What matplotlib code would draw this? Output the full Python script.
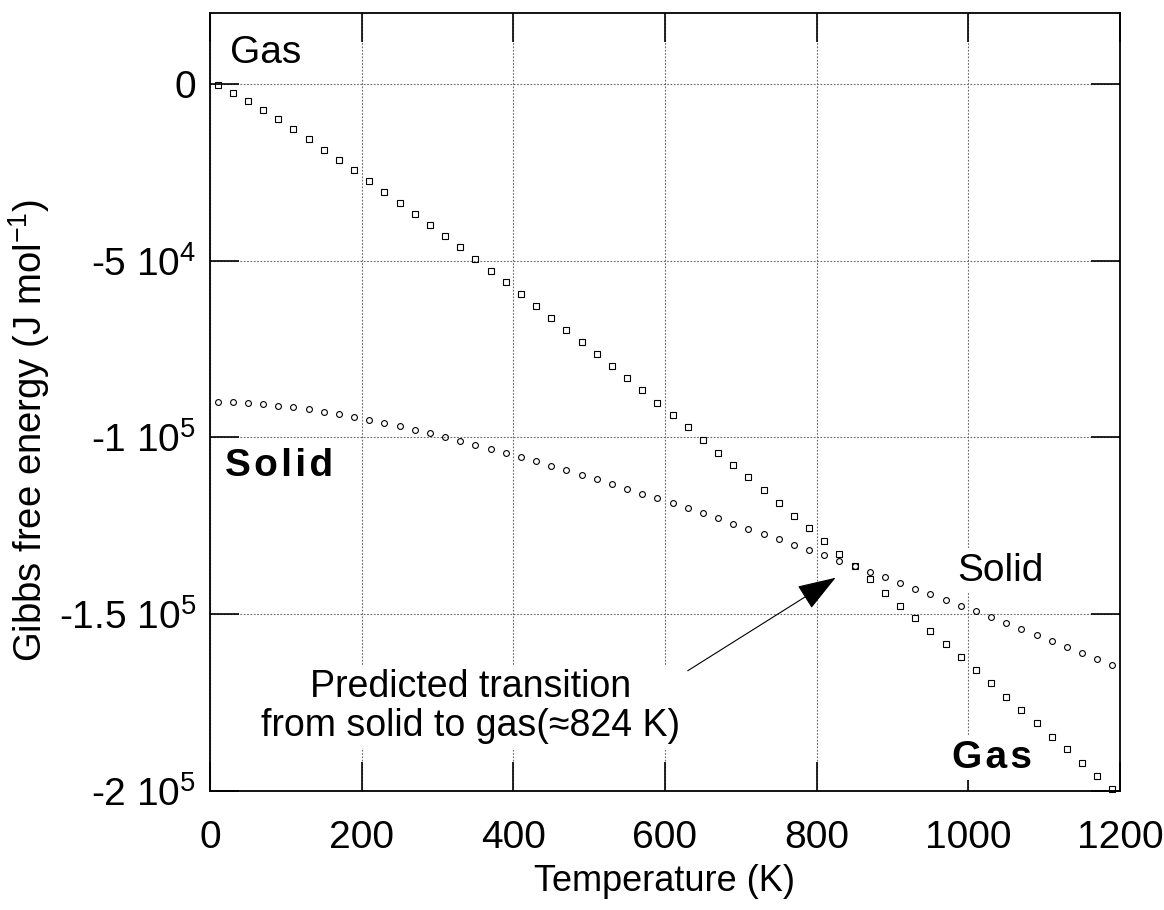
import matplotlib
matplotlib.use('Agg')
import matplotlib.pyplot as plt

plt.rcParams['font.family'] = ['Liberation Sans', 'DejaVu Sans']
plt.rcParams['mathtext.fontset'] = 'custom'
plt.rcParams['mathtext.rm'] = 'Liberation Sans'

# temperature grid (K)
temp = [10, 30, 50, 70, 90, 110, 130, 150, 170, 190,
        210, 230, 250, 270, 290, 310, 330, 350, 370, 390,
        410, 430, 450, 470, 490, 510, 530, 550, 570, 590,
        610, 630, 650, 670, 690, 710, 730, 750, 770, 790,
        810, 830, 850, 870, 890, 910, 930, 950, 970, 990,
        1010, 1030, 1050, 1070, 1090, 1110, 1130, 1150, 1170, 1190]

# Gibbs free energy of the gas phase (J/mol)
g_gas = [-400, -2500, -5000, -7500, -10100, -12800, -15700, -18600, -21600, -24500,
         -27500, -30600, -33700, -36800, -39900, -43200, -46300, -49600, -52900, -56200,
         -59600, -62900, -66300, -69700, -73100, -76500, -79900, -83300, -86700, -90200,
         -93700, -97200, -100700, -104300, -107700, -111300, -115000, -118500, -122100, -125700,
         -129300, -132900, -136500, -140100, -143900, -147600, -151200, -154900, -158500, -162200,
         -165900, -169600, -173400, -177000, -180800, -184600, -188200, -192000, -195800, -199500]

# Gibbs free energy of the solid phase (J/mol)
g_solid = [-90100, -90100, -90200, -90500, -91000, -91400, -92100, -92700, -93500, -94300,
           -95100, -96000, -96900, -97900, -98900, -99900, -101000, -102100, -103300, -104400,
           -105600, -106800, -108100, -109300, -110600, -111900, -113200, -114500, -115900, -117200,
           -118600, -120100, -121500, -122900, -124400, -125800, -127300, -128800, -130300, -131800,
           -133300, -134900, -136500, -138100, -139600, -141200, -142800, -144400, -146000, -147600,
           -149200, -150900, -152600, -154300, -155900, -157600, -159300, -161100, -162800, -164500]

xticks = [0, 200, 400, 600, 800, 1000, 1200]
yticks = [-200000, -150000, -100000, -50000, 0]
ylabels = ['-2 $\\mathregular{10^{5}}$', '-1.5 $\\mathregular{10^{5}}$', '-1 $\\mathregular{10^{5}}$',
           '-5 $\\mathregular{10^{4}}$', '0']

fig = plt.figure(figsize=(11.64, 9.10), dpi=100)
ax = fig.add_axes([0.1804, 0.1308, 0.7818, 0.8549])

ax.plot(temp, g_gas, 's', mfc='none', mec='black', ms=5, mew=0.8, clip_on=False)
ax.plot(temp, g_solid, 'o', mfc='none', mec='black', ms=4.2, mew=0.8, clip_on=False)

ax.set_xlim(0, 1200)
ax.set_ylim(-200000, 20000)
ax.set_xticks(xticks)
ax.set_yticks(yticks)
ax.set_yticklabels(ylabels)
ax.tick_params(direction='in', length=21, width=1.2, top=True, right=True,
               labelsize=28, color='black')
ax.tick_params(axis='x', pad=21)
ax.tick_params(axis='y', pad=10)
ax.grid(True, ls=(0, (1.5, 1.5)), color='0.4', lw=0.8)
for sp in ax.spines.values():
    sp.set_linewidth(1.3)

ax.set_xlabel('Temperature (K)', fontsize=26, labelpad=6)
ax.set_ylabel('Gibbs free energy (J mol$\\mathregular{^{-1}}$)', fontsize=27.5)
ax.yaxis.set_label_coords(-0.174, 0.464)

box = dict(boxstyle='square,pad=0.12', fc='white', ec='none')
hs = '\u200a'
ax.text(26, 6000, 'Gas', fontsize=28, ha='left', va='baseline', bbox=box)
ax.text(20, -110900, hs.join('Solid'), fontsize=28, fontweight='bold',
        ha='left', va='baseline', bbox=box)
ax.text(985, -140500, 'Solid', fontsize=28, ha='left', va='baseline', bbox=box)
ax.text(978, -193400, hs.join('Gas'), fontsize=28, fontweight='bold',
        ha='left', va='baseline', bbox=box)
ax.text(344, -184400, 'Predicted transition\nfrom solid to gas(\u2248824 K)',
        fontsize=27, ha='center', va='baseline', multialignment='center',
        linespacing=1.1, bbox=box)

ax.annotate('', xy=(825, -139700), xytext=(630, -166000),
            arrowprops=dict(arrowstyle='-|>,head_length=0.49,head_width=0.17',
                            mutation_scale=50, lw=0.8, color='black',
                            shrinkA=0, shrinkB=0))

fig.savefig('out.png', dpi=100)
